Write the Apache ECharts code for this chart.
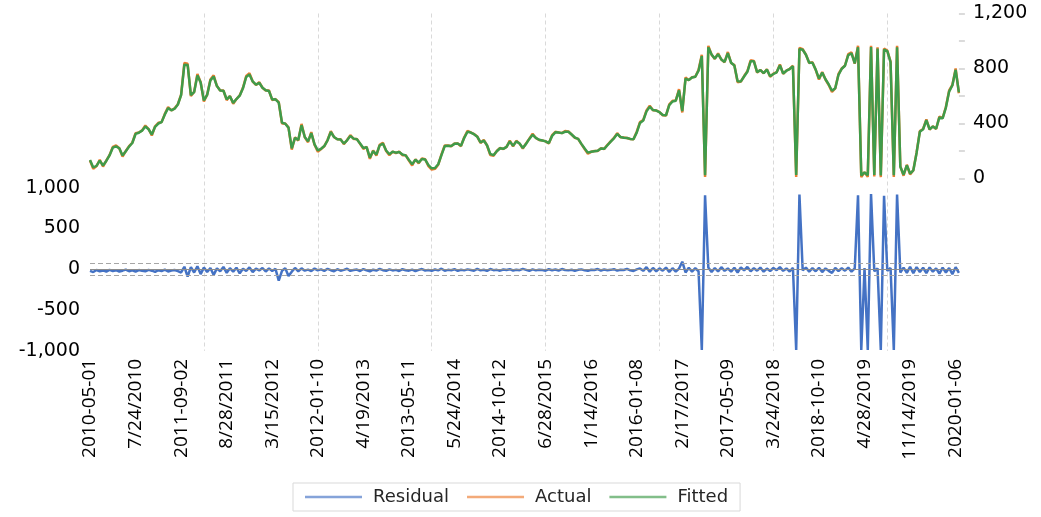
<!DOCTYPE html>
<html>
<head>
<meta charset="utf-8">
<script src="https://cdn.jsdelivr.net/npm/echarts@6/dist/echarts.min.js"></script>
<style>
  html, body { margin: 0; padding: 0; background: #ffffff; }
  #chart { width: 1041px; height: 517px; }
</style>
</head>
<body>
<div id="chart"></div>
<script>
// Tick labels shown on the category axis (one every 14 observations)
const tickLabels = ["2010-05-01","7/24/2010","2011-09-02","8/28/2011","3/15/2012","2012-01-10",
  "4/19/2013","2013-05-11","5/24/2014","2014-10-12","6/28/2015","1/14/2016","2016-01-08",
  "2/17/2017","2017-05-09","3/24/2018","2018-10-10","4/28/2019","11/14/2019","2020-01-06"];

// Actual series (right axis)
const actual = [
  131, 70, 90, 136, 87, 130, 170, 230, 240, 220,
  160, 200, 235, 260, 330, 335, 350, 385, 360, 313,
  380, 405, 410, 470, 520, 495, 510, 540, 610, 840,
  834, 600, 630, 760, 700, 560, 610, 720, 750, 672,
  640, 640, 570, 600, 543, 578, 604, 660, 745, 765,
  705, 680, 700, 660, 640, 640, 570, 578, 555, 400,
  400, 370, 210, 300, 276, 397, 300, 264, 337, 245,
  195, 215, 235, 280, 345, 300, 285, 286, 250, 280,
  315, 288, 288, 252, 216, 230, 143, 204, 167, 245,
  260, 200, 170, 196, 185, 195, 170, 170, 130, 95,
  140, 110, 146, 140, 90, 65, 70, 100, 175, 240,
  240, 234, 255, 255, 235, 300, 346, 335, 323, 305,
  258, 280, 240, 170, 165, 200, 222, 215, 230, 276,
  233, 274, 254, 218, 255, 290, 325, 295, 280, 277,
  270, 255, 315, 340, 335, 330, 345, 342, 320, 296,
  288, 250, 215, 180, 194, 200, 200, 220, 214, 245,
  270, 295, 330, 300, 298, 295, 287, 285, 340, 410,
  425, 495, 530, 496, 495, 483, 460, 458, 540, 565,
  567, 650, 480, 735, 715, 737, 740, 790, 900, 12,
  965, 900, 870, 910, 865, 846, 920, 840, 825, 700,
  705, 745, 780, 860, 855, 770, 790, 765, 795, 740,
  762, 773, 830, 761, 785, 797, 820, 12, 950, 940,
  900, 840, 845, 790, 720, 775, 720, 680, 630, 655,
  760, 800, 822, 905, 918, 835, 965, 10, 45, 12,
  965, 15, 955, 10, 945, 930, 850, 12, 965, 90,
  20, 100, 30, 60, 190, 345, 360, 430, 355, 380,
  360, 450, 440, 520, 640, 680, 800, 620
];

// Fitted series (right axis)
const fitted = [
  135, 80, 92, 130, 95, 128, 168, 224, 234, 220,
  168, 198, 232, 258, 324, 333, 348, 378, 358, 320,
  376, 400, 410, 466, 512, 496, 508, 538, 606, 828,
  826, 606, 628, 750, 698, 568, 608, 714, 742, 672,
  640, 638, 576, 598, 550, 578, 602, 656, 738, 756,
  706, 682, 696, 660, 642, 636, 574, 576, 552, 406,
  398, 370, 220, 296, 280, 388, 302, 270, 330, 248,
  204, 216, 236, 278, 338, 302, 286, 284, 254, 278,
  310, 290, 286, 254, 222, 228, 152, 200, 174, 240,
  254, 204, 176, 194, 188, 193, 174, 168, 134, 104,
  136, 116, 142, 138, 98, 74, 76, 104, 170, 236,
  238, 236, 252, 254, 238, 296, 340, 334, 322, 304,
  262, 276, 242, 178, 170, 198, 220, 216, 230, 270,
  238, 270, 254, 222, 252, 288, 318, 296, 282, 276,
  270, 258, 310, 336, 334, 330, 340, 340, 320, 298,
  288, 252, 218, 188, 194, 198, 202, 218, 216, 242,
  268, 292, 324, 302, 296, 294, 288, 286, 334, 404,
  422, 488, 522, 498, 494, 482, 462, 460, 534, 560,
  566, 640, 490, 726, 716, 734, 740, 784, 890, 24,
  955, 902, 872, 904, 866, 848, 912, 842, 822, 708,
  706, 742, 776, 852, 852, 774, 788, 766, 792, 744,
  760, 772, 824, 764, 784, 796, 816, 25, 942, 936,
  900, 842, 842, 792, 726, 770, 722, 684, 638, 656,
  754, 798, 820, 898, 910, 838, 955, 22, 44, 24,
  956, 26, 946, 22, 938, 926, 846, 24, 955, 86,
  28, 96, 36, 60, 186, 340, 358, 424, 358, 378,
  362, 444, 438, 516, 632, 678, 790, 626
];

// Residual series (left axis)
const residual = [
  -20, -35, -10, -25, -15, -30, -8, -22, -12, -28,
  -18, -5, -25, -14, -30, -10, -20, -26, -8, -18,
  -32, -12, -22, -6, -28, -16, -10, -24, -40, 30,
  -92, 25, -40, 35, -60, 20, -35, 15, -70, 10,
  -25, 28, -45, 12, -30, 18, -50, 5, -20, 22,
  -35, 8, -15, 15, -28, 10, -22, 5, -141, -20,
  12, -83, -30, 15, -25, 10, -18, -5, -22, 8,
  -15, -2, -20, 5, -12, -25, 0, -18, -8, 6,
  -20, -10, -4, -22, 2, -14, -26, -6, -16, 4,
  -12, -20, -2, -15, -8, -22, 0, -12, -18, -5,
  -24, -8, 2, -16, -10, -20, -4, -14, 6, -18,
  -8, -12, 0, -20, -6, -14, -2, -10, -18, 4,
  -14, -6, -20, 2, -12, -8, -18, -4, -10, 0,
  -16, -6, -12, 4, -8, -20, -2, -14, -6, -10,
  -18, 0, -12, -4, -16, 2, -10, -14, -6, -20,
  -8, -2, -14, -20, -6, -10, 2, -16, -4, -12,
  -8, 0, -18, -6, -10, 4, -14, -22, -2, 10,
  -20, 25, -30, 15, -25, 10, -18, 20, -35, 12,
  -28, 8, 92, -40, 18, -30, 12, -25, -990, 905,
  20, -35, 15, -28, 25, -20, 10, -30, 18, -40,
  22, -15, 28, -25, 12, -18, 20, -30, 8, -22,
  15, -12, 25, -20, 10, -28, 18, -990, 915, -15,
  20, -30, 12, -25, 18, -35, 10, -20, -45, 15,
  -22, 12, -18, 20, -30, 10, 905, -990, 15, -990,
  920, -25, 10, -990, 900, -20, 15, -990, 915, -40,
  20, -45, 30, -50, 25, -35, 18, -48, 22, -30,
  10, -55, 20, -40, 15, -60, 25, -45
];

// Residual standard-error band
const seBand = 72;

const LABEL_STEP = 14;   // one tick label every 14 observations
const GRID_STEP = 35;    // one vertical grid line every 35 observations

const categories = residual.map((_, i) => String(i));

const chart = echarts.init(document.getElementById('chart'), null, { renderer: 'canvas' });

chart.setOption({
  animation: false,
  backgroundColor: '#ffffff',
  grid: { left: 90, right: 82.1, top: 13.5, bottom: 166.2, containLabel: false },
  legend: {
    left: 293, top: 483,
    padding: [5, 12, 5, 12],
    borderColor: '#d9d9d9', borderWidth: 1,
    icon: 'rect',
    itemWidth: 57, itemHeight: 2.5, itemGap: 18,
    itemStyle: { opacity: 0.65 },
    textStyle: { fontFamily: 'DejaVu Sans', fontSize: 18, color: '#262626', padding: [0, 0, 0, 6] },
    data: ['Residual', 'Actual', 'Fitted']
  },
  xAxis: {
    type: 'category',
    boundaryGap: false,
    data: categories,
    axisLine: { show: false },
    axisTick: { show: false },
    axisLabel: {
      interval: LABEL_STEP - 1,
      rotate: 90,
      margin: 8,
      fontFamily: 'Open Sans',
      fontSize: 19,
      color: '#000000',
      formatter: (v, idx) => tickLabels[Math.round(idx / LABEL_STEP)] || ''
    },
    splitLine: {
      show: true,
      interval: (idx) => idx > 0 && idx % GRID_STEP === 0,
      lineStyle: { color: '#d9d9d9', type: [4, 3], width: 1 }
    }
  },
  yAxis: [
    {
      type: 'value',
      position: 'left',
      min: -1000,
      max: 3134,
      axisLine: { show: false },
      axisTick: { show: false },
      splitLine: { show: false },
      axisLabel: {
        customValues: [-1000, -500, 0, 500, 1000],
        margin: 10,
        fontFamily: 'DejaVu Sans',
        fontSize: 19,
        color: '#000000',
        padding: [0, 0, 5, 0],
        formatter: (v) => Number(v).toLocaleString('en-US')
      }
    },
    {
      type: 'value',
      position: 'right',
      min: -1253,
      max: 1200,
      axisLine: { show: false },
      axisTick: {
        show: true,
        length: 6,
        customValues: [0, 200, 400, 600, 800, 1000, 1200],
        lineStyle: { color: '#d0d0d0', width: 1.5 }
      },
      splitLine: { show: false },
      axisLabel: {
        customValues: [0, 400, 800, 1200],
        margin: 14,
        fontFamily: 'DejaVu Sans',
        fontSize: 19,
        color: '#000000',
        padding: [0, 0, 4, 0],
        formatter: (v) => Number(v).toLocaleString('en-US')
      }
    }
  ],
  series: [
    {
      name: 'Residual',
      type: 'line',
      yAxisIndex: 0,
      data: residual,
      symbol: 'none',
      lineStyle: { color: '#4472C4', width: 2.5 },
      itemStyle: { color: '#4472C4' },
      z: 2,
      markLine: {
        silent: true,
        symbol: 'none',
        label: { show: false },
        data: [
          { yAxis: seBand, lineStyle: { color: '#a6a6a6', type: [5, 3], width: 1.2 } },
          { yAxis: -seBand, lineStyle: { color: '#a6a6a6', type: [5, 3], width: 1.2 } },
          { yAxis: 0, lineStyle: { color: '#8c8c8c', type: 'solid', width: 1 } }
        ]
      }
    },
    {
      name: 'Actual',
      type: 'line',
      yAxisIndex: 1,
      data: actual,
      symbol: 'none',
      lineStyle: { color: '#ED7D31', width: 2.5 },
      itemStyle: { color: '#ED7D31' },
      z: 3
    },
    {
      name: 'Fitted',
      type: 'line',
      yAxisIndex: 1,
      data: fitted,
      symbol: 'none',
      lineStyle: { color: '#3F9B4A', width: 2.5 },
      itemStyle: { color: '#3F9B4A' },
      z: 4
    }
  ]
});
</script>
</body>
</html>
